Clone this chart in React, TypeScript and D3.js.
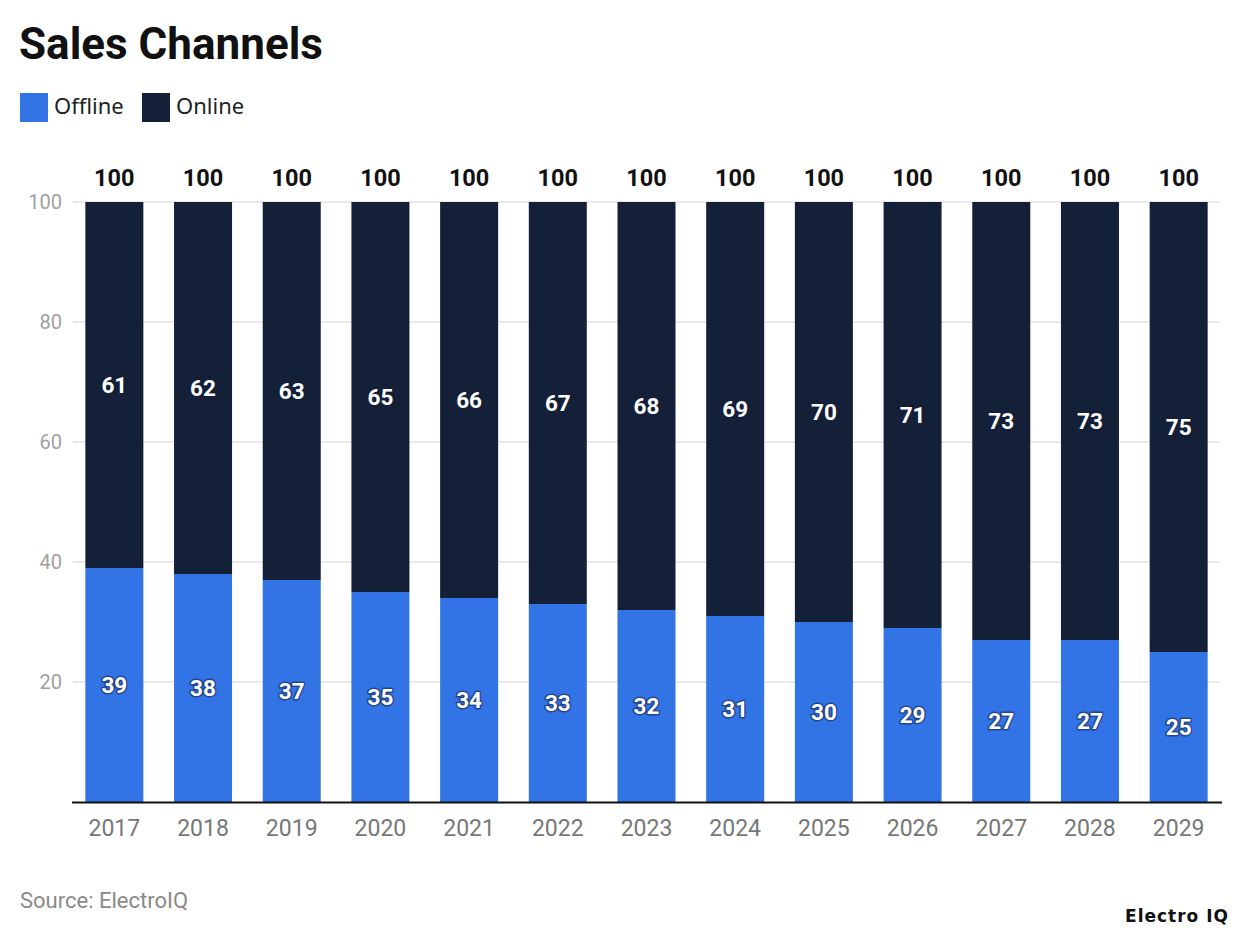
import React from "react";
import * as d3 from "d3";

const years = ["2017","2018","2019","2020","2021","2022","2023","2024","2025","2026","2027","2028","2029"];
const offline = [39,38,37,35,34,33,32,31,30,29,27,27,25];
const online = [61,62,63,65,66,67,68,69,70,71,73,73,75];
const yTicks = [20,40,60,80,100];
const seriesNames = ["Offline","Online"];
const colors = ["#3273e6","#132037"];

const W = 1240, H = 936;
const top = 202, bottom = 802, left = 70, right = 1223;

export default function App() {
  const x = d3.scaleBand<string>().domain(years).range([left, right]).paddingInner(0.346).paddingOuter(0.173);
  const y = d3.scaleLinear().domain([0, 100]).range([bottom, top]);
  const font = "Roboto, 'Noto Sans', sans-serif";
  const halo = { paintOrder: "stroke", stroke: "rgba(20,30,60,0.55)", strokeWidth: 3, strokeLinejoin: "round" } as any;
  return (
    <svg width={W} height={H} style={{ position: "absolute", left: 0, top: 0, background: "#fff" }} fontFamily={font}>
      <text x={19} y={59} fontSize={44} fontWeight={700} fill="#111">Sales Channels</text>
      {seriesNames.map((s, i) => {
        const lx = i === 0 ? 20 : 142;
        return (
          <g key={s}>
            <rect x={lx} y={93} width={28} height={29} fill={colors[i]} />
            <text x={lx + 34} y={114} fontSize={22} fill="#222" fontFamily="'Noto Sans', sans-serif">{s}</text>
          </g>
        );
      })}
      {yTicks.map(t => (
        <g key={t}>
          <line x1={73} x2={1220} y1={y(t)} y2={y(t)} stroke="#e3e3e3" strokeWidth={1.5} />
          <text x={62} y={y(t)} dy="0.35em" textAnchor="end" fontSize={20} fill="#a0a0a0">{t}</text>
        </g>
      ))}
      {years.map((yr, i) => {
        const bx = x(yr)!;
        const bw = x.bandwidth();
        const cx = bx + bw / 2;
        const tot = offline[i] + online[i];
        return (
          <g key={yr}>
            <rect x={bx} y={y(offline[i])} width={bw} height={y(0) - y(offline[i])} fill={colors[0]} />
            <rect x={bx} y={y(tot)} width={bw} height={y(offline[i]) - y(tot)} fill={colors[1]} />
            <text x={cx} y={y(offline[i] / 2)} dy="0.35em" textAnchor="middle" fontSize={22.5} fontWeight={700} fill="#fff" style={halo}>{offline[i]}</text>
            <text x={cx} y={y(offline[i] + online[i] / 2)} dy="0.35em" textAnchor="middle" fontSize={22.5} fontWeight={700} fill="#fff" style={halo}>{online[i]}</text>
            <text x={cx} y={178} dy="0.35em" textAnchor="middle" fontSize={23.5} fontWeight={700} fill="#111">{tot}</text>
            <text x={cx} y={828} dy="0.35em" textAnchor="middle" fontSize={23} fill="#777">{yr}</text>
          </g>
        );
      })}
      <line x1={72} x2={1222} y1={bottom + 0.5} y2={bottom + 0.5} stroke="#111" strokeWidth={2} />
      <text x={20} y={908} fontSize={22} fill="#8a8a8a">Source: ElectroIQ</text>
      <text x={1229} y={922} textAnchor="end" fontSize={17} fontWeight={700} fill="#111" letterSpacing={1} fontFamily="'DejaVu Sans', sans-serif">Electro IQ</text>
    </svg>
  );
}
